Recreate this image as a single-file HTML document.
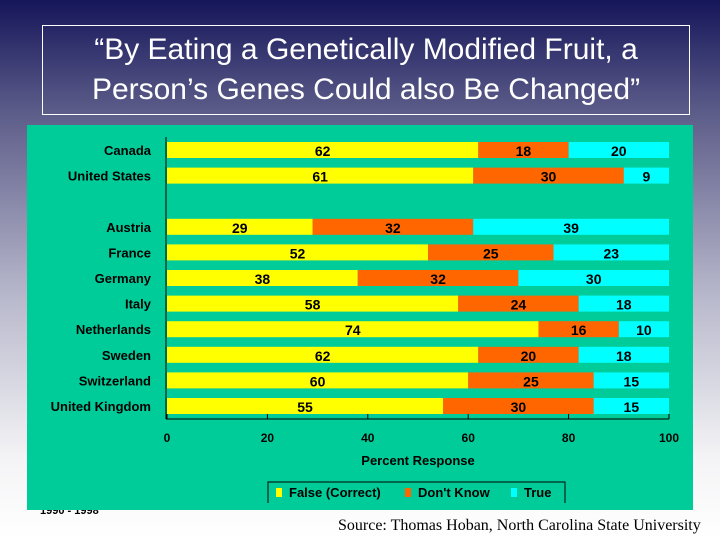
<!DOCTYPE html>
<html><head><meta charset="utf-8"><style>
html,body{margin:0;padding:0}
body{width:720px;height:540px;position:relative;overflow:hidden;font-family:"Liberation Sans",sans-serif;
background:linear-gradient(to bottom,#15155a 0%,#5a5a88 20%,#b8b8cc 55%,#f4f4f6 85%,#ffffff 100%)}
#title{position:absolute;left:42px;top:25px;width:648px;height:90px;border:1px solid #fff;color:#fff;font-size:30px;text-align:center;line-height:40px;padding-top:4px;box-sizing:border-box;white-space:nowrap}
#src{position:absolute;left:338px;top:517px;font-family:"Liberation Serif",serif;font-size:16px;color:#000}
#yr{position:absolute;left:40px;top:505px;font-size:11px;font-weight:bold;color:#000}
svg{position:absolute;left:0;top:0}
</style></head><body>
<div id="yr">1990 - 1998</div>
<svg id="chart" width="720" height="540"></svg>
<div id="title">“By Eating a Genetically Modified Fruit, a<br>Person’s Genes Could also Be Changed”</div>
<div id="src">Source: Thomas Hoban, North Carolina State University</div>
<script>
const categories=["Canada","United States","","Austria","France","Germany","Italy","Netherlands","Sweden","Switzerland","United Kingdom"];
const falseVals=[62,61,null,29,52,38,58,74,62,60,55];
const dontKnowVals=[18,30,null,32,25,32,24,16,20,25,30];
const trueVals=[20,9,null,39,23,30,18,10,18,15,15];
const ticks=[0,20,40,60,80,100];
const seriesNames=["False (Correct)","Don't Know","True"];
const colors=["#ffff00","#ff6600","#00ffff"];
const NS="http://www.w3.org/2000/svg";
const svg=document.getElementById('chart');
function el(t,a,p){const e=document.createElementNS(NS,t);for(const k in a)e.setAttribute(k,a[k]);(p||svg).appendChild(e);return e;}
const x=v=>167+v*5.02;
const y=i=>150+i*25.6;
let panel=el('rect',{x:27,y:125,width:666,height:385,fill:'#00cc99'});


const series=[falseVals,dontKnowVals,trueVals];
categories.forEach((c,i)=>{
  if(c){
    let t=el('text',{x:151,y:y(i)+5,'text-anchor':'end','font-size':13,'font-weight':'bold',fill:'#000'});
    t.textContent=c;
    
    
  }
  if(falseVals[i]==null)return;
  let acc=0;
  series.forEach((s,k)=>{
    const v=s[i];
    let r=el('rect',{x:x(acc),y:y(i)-8,width:x(acc+v)-x(acc),height:16,fill:colors[k]});
    
    
    let t=el('text',{x:(x(acc)+x(acc+v))/2,y:y(i)+6,'text-anchor':'middle','font-size':14,'font-weight':'bold',fill:'#000'});
    t.textContent=v;
    
    
    acc+=v;
  });
});
el('line',{x1:166,y1:137,x2:166,y2:419,stroke:'#000','stroke-width':1});
el('line',{x1:166,y1:419,x2:669,y2:419,stroke:'#000','stroke-width':1});
ticks.forEach(v=>{
  el('line',{x1:x(v),y1:414,x2:x(v),y2:419,stroke:'#000'});
  let t=el('text',{x:x(v),y:442,'text-anchor':'middle','font-size':12,'font-weight':'bold',fill:'#000'});
  t.textContent=v;
  
  
});
let xt=el('text',{x:418,y:465,'text-anchor':'middle','font-size':13,'font-weight':'bold',fill:'#000'});
xt.textContent='Percent Response';


let lg=el('g',{});


el('path',{d:'M268,503 V482 H565 V503',fill:'none',stroke:'#000'},lg);
const lx=[276,405,511];
seriesNames.forEach((n,k)=>{
  el('rect',{x:lx[k],y:488,width:6,height:9,fill:colors[k]},lg);
  let t=el('text',{x:lx[k]+13,y:497,'font-size':13,'font-weight':'bold',fill:'#000'},lg);
  t.textContent=n;
  
  
});
</script>
</body></html>
